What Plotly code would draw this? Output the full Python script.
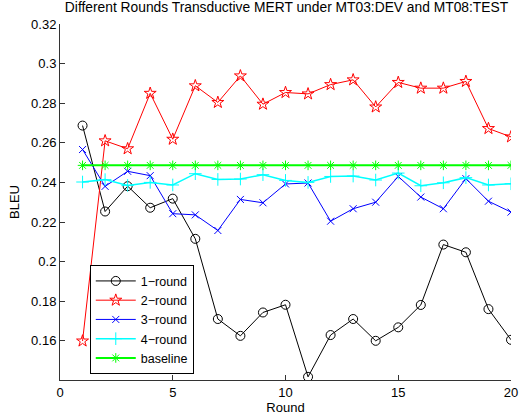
import plotly.graph_objects as go

rounds = list(range(1, 21))
round1 = [0.2687, 0.2253, 0.2381, 0.2272, 0.2318, 0.2115, 0.1710, 0.1625, 0.1743, 0.1782,
          0.1418, 0.1629, 0.1710, 0.1600, 0.1668, 0.1781, 0.2086, 0.2047, 0.1760, 0.1605]
round2 = [0.1599, 0.2610, 0.2570, 0.2850, 0.2618, 0.2888, 0.2804, 0.2938, 0.2795, 0.2854,
          0.2847, 0.2894, 0.2918, 0.2781, 0.2905, 0.2876, 0.2876, 0.2910, 0.2672, 0.2630]
round3 = [0.2566, 0.2380, 0.2456, 0.2434, 0.2242, 0.2236, 0.2157, 0.2314, 0.2297, 0.2392,
          0.2397, 0.2204, 0.2267, 0.2300, 0.2430, 0.2326, 0.2267, 0.2419, 0.2305, 0.2250]
round4 = [0.2402, 0.2414, 0.2385, 0.2400, 0.2387, 0.2444, 0.2415, 0.2417, 0.2439, 0.2410,
          0.2400, 0.2430, 0.2432, 0.2412, 0.2447, 0.2383, 0.2398, 0.2424, 0.2387, 0.2393]
baseline = [0.2486] * 20

series = [
    ("1\u2212round", round1, "black", "circle-open", 9, 1),
    ("2\u2212round", round2, "red", "star-open", 9, 1),
    ("3\u2212round", round3, "blue", "x-thin-open", 7, 1),
    ("4\u2212round", round4, "#00ffff", "cross-thin-open", 9, 1.5),
    ("baseline", baseline, "#00ff00", "asterisk-open", 8, 2),
]

fig = go.Figure()
for name, vals, color, sym, size, lw in series:
    fig.add_trace(go.Scatter(
        x=rounds, y=vals, name=name, mode="lines+markers",
        line=dict(color=color, width=lw),
        marker=dict(symbol=sym, size=size, color=color, line=dict(color=color, width=1)),
    ))

axis_common = dict(
    showgrid=False, zeroline=False, showline=True, linecolor="#333333", linewidth=1,
    ticks="inside", ticklen=5, tickcolor="#333333", mirror=False, automargin=False,
    tickfont=dict(family="Liberation Sans, Arial", size=13, color="black"),
)

fig.update_layout(
    width=519, height=420,
    margin=dict(l=60, r=8, t=24, b=40, autoexpand=False),
    paper_bgcolor="white", plot_bgcolor="white",
    font=dict(family="Liberation Sans, Arial", size=13, color="black"),
    title=dict(text="Different Rounds Transductive MERT under MT03:DEV and MT08:TEST",
               x=0.552, xanchor="center", y=0.995, yanchor="top",
               font=dict(size=13.8)),
    xaxis=dict(range=[0, 20], tickvals=[0, 5, 10, 15, 20],
               title=dict(text="Round", standoff=4, font=dict(size=13)), **axis_common),
    yaxis=dict(range=[0.1402, 0.32], tickvals=[0.16, 0.18, 0.2, 0.22, 0.24, 0.26, 0.28, 0.3, 0.32],
               ticktext=["0.16", "0.18", "0.2", "0.22", "0.24", "0.26", "0.28", "0.3", "0.32"],
               title=dict(text="BLEU", standoff=8, font=dict(size=13)), **axis_common),
    legend=dict(x=0.066, y=0.016, xanchor="left", yanchor="bottom",
                bgcolor="white", bordercolor="black", borderwidth=1,
                font=dict(size=12.5), tracegroupgap=0, itemwidth=40),
    showlegend=True,
)

fig.write_html("out.html", config={"displayModeBar": False},
               post_script="document.body.style.margin='0px';document.body.style.overflow='hidden';")
